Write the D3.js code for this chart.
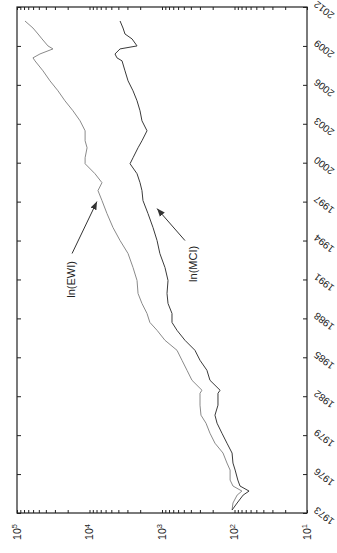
<!DOCTYPE html>
<html lang="en">
<head>
    <meta charset="UTF-8">
    <title>ln(EWI) and ln(MCI)</title>
    <script src="https://d3js.org/d3.v7.min.js"></script>
    <style>
        body { margin: 0; background: #fff; font-family: "Liberation Sans", Arial, sans-serif; }
        .line { fill: none; stroke-width: 1px; stroke-linejoin: round; }
        .axis path { display: none; }
        .axis line { stroke: #222; }
        .year-label { font-size: 10px; fill: #222; }
        .exp-label { font-size: 10.5px; fill: #222; }
        .note { font-size: 11px; fill: #222; }
    </style>
</head>
<body>
    <div id="chart"></div>
    <script>
        // Data (value axis is logarithmic)
        const years = [1973.23, 1973.77, 1974.38, 1974.69, 1975.08, 1975.54, 1976.31, 1976.85, 1977.62, 1978.38,
            1979.15, 1979.92, 1980.54, 1981.31, 1982.23, 1982.46, 1983.23, 1984.0, 1984.77, 1985.54,
            1986.31, 1987.08, 1987.69, 1988.38, 1989.15, 1989.92, 1990.92, 1991.92, 1993.0, 1994.0,
            1995.0, 1996.08, 1997.08, 1997.85, 1998.46, 1999.15, 1999.92, 2000.38, 2001.15, 2001.69,
            2002.46, 2003.23, 2004.0, 2004.77, 2005.54, 2006.31, 2007.08, 2007.85, 2008.08, 2008.38,
            2008.77, 2009.0, 2009.54, 2009.92, 2010.38, 2010.92];
        const ewi = [108, 105, 92, 79, 105, 115, 115, 127, 144, 186,
            218, 247, 290, 299, 299, 281, 386, 452, 530, 621,
            910, 1170, 1470, 1610, 1890, 2140, 2210, 2510, 2940, 3790,
            4740, 5740, 6730, 7640, 6730, 8400, 11500, 11500, 10800, 11500,
            11500, 13500, 16900, 21800, 27200, 35100, 43800, 56500, 60200, 48200,
            31900, 37400, 45200, 51300, 60200, 77600];
        const mci = [108, 92, 76, 63, 84, 90, 98, 105, 108, 127,
            149, 174, 186, 169, 169, 158, 218, 240, 299, 351,
            482, 621, 728, 728, 826, 853, 826, 910, 1070, 1170,
            1330, 1560, 1830, 1890, 2010, 2210, 2760, 2510, 2140, 1890,
            1610, 1890, 2010, 2210, 2510, 2940, 3240, 3560, 4180, 4450,
            3790, 2210, 2590, 3240, 3450, 3790];
        const yearTicks = [1973, 1976, 1979, 1982, 1985, 1988, 1991, 1994, 1997, 2000, 2003, 2006, 2009, 2012];
        const decadeTicks = [1, 2, 3, 4, 5];

        const notes = [
            { label: "ln(EWI)", textYear: 1991.0, textValue: 18000, fromYear: 1993.0, fromValue: 17400, toYear: 1997.0, toValue: 7900 },
            { label: "ln(MCI)", textYear: 1992.2, textValue: 370, fromYear: 1994.0, fromValue: 482, toYear: 1996.46, toValue: 1170 }
        ];

        const width = 337, height = 553;
        const frame = { left: 17, right: 307, top: 7, bottom: 513 };

        const svg = d3.select("#chart").append("svg")
            .attr("width", width)
            .attr("height", height);

        // chart is turned on its side: years run bottom to top, values right to left
        const yScale = d3.scaleLinear().domain([1973, 2012]).range([frame.bottom, frame.top]);
        const vScale = d3.scaleLog().domain([10, 1e5]).range([frame.right, frame.left]);

        const minorTicks = [];
        for (let d = 1; d < 5; d++) {
            for (let k = 1; k < 10; k++) minorTicks.push(k * Math.pow(10, d));
        }
        minorTicks.push(1e5);

        // value axis ticks (bottom and top edges)
        svg.append("g").attr("class", "axis")
            .attr("transform", `translate(0,${frame.bottom})`)
            .call(d3.axisBottom(vScale).tickValues(minorTicks).tickSize(-3).tickFormat(""));
        svg.append("g").attr("class", "axis")
            .attr("transform", `translate(0,${frame.top})`)
            .call(d3.axisTop(vScale).tickValues(minorTicks).tickSize(-3).tickFormat(""));

        // year axis ticks (right and left edges)
        svg.append("g").attr("class", "axis")
            .attr("transform", `translate(${frame.right},0)`)
            .call(d3.axisRight(yScale).tickValues(yearTicks).tickSize(-4).tickFormat(""));
        svg.append("g").attr("class", "axis")
            .attr("transform", `translate(${frame.left},0)`)
            .call(d3.axisLeft(yScale).tickValues(yearTicks).tickSize(-4).tickFormat(""));

        // year labels, tilted and upside down like the turned page
        svg.append("g").selectAll("text")
            .data(yearTicks)
            .enter().append("text")
            .attr("class", "year-label")
            .attr("text-anchor", "middle")
            .attr("dy", "0.35em")
            .attr("transform", d => `translate(${frame.right + 17},${yScale(d) + 3}) rotate(218)`)
            .text(d => d);

        // 10^n labels
        const vLabels = svg.append("g").selectAll("text")
            .data(decadeTicks)
            .enter().append("text")
            .attr("class", "exp-label")
            .attr("text-anchor", "middle")
            .attr("transform", d => `translate(${vScale(Math.pow(10, d))},${frame.bottom + 19}) rotate(-90)`)
            .attr("dy", "0.35em");
        vLabels.append("tspan").text("10");
        vLabels.append("tspan").attr("dy", "-0.45em").style("font-size", "7.5px").text(d => d);

        // frame
        svg.append("rect")
            .attr("x", frame.left).attr("y", frame.top)
            .attr("width", frame.right - frame.left)
            .attr("height", frame.bottom - frame.top)
            .attr("fill", "none").attr("stroke", "#222").attr("stroke-width", 1.2);

        const line = series => d3.line()
            .x((d, i) => vScale(series[i]))
            .y(d => yScale(d))(years);

        svg.append("path").attr("class", "line")
            .attr("d", line(ewi)).attr("stroke", "#8a8a8a");
        svg.append("path").attr("class", "line")
            .attr("d", line(mci)).attr("stroke", "#3a3a3a");

        // annotations with arrows
        svg.append("defs").append("marker")
            .attr("id", "arrow")
            .attr("viewBox", "0 0 10 10")
            .attr("refX", 10).attr("refY", 5)
            .attr("markerWidth", 8).attr("markerHeight", 8)
            .attr("orient", "auto")
            .append("path").attr("d", "M0,1 L10,5 L0,9 Z").attr("fill", "#333");

        notes.forEach(n => {
            svg.append("line")
                .attr("x1", vScale(n.fromValue)).attr("y1", yScale(n.fromYear))
                .attr("x2", vScale(n.toValue)).attr("y2", yScale(n.toYear))
                .attr("stroke", "#333").attr("stroke-width", 1)
                .attr("marker-end", "url(#arrow)");
            svg.append("text")
                .attr("class", "note")
                .attr("text-anchor", "middle")
                .attr("dy", "0.35em")
                .attr("transform", `translate(${vScale(n.textValue)},${yScale(n.textYear)}) rotate(-90)`)
                .text(n.label);
        });
    </script>
</body>
</html>
